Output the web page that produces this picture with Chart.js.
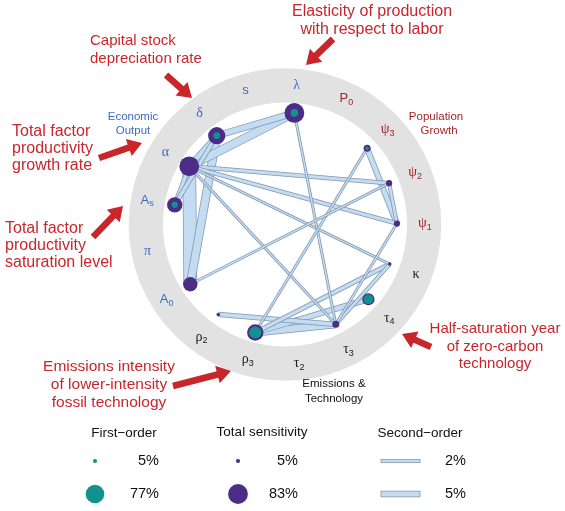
<!DOCTYPE html>
<html><head><meta charset="utf-8">
<script src="https://cdn.jsdelivr.net/npm/chart.js@4.4.0/dist/chart.umd.min.js"></script>
<style>html,body{margin:0;padding:0;background:#fff}canvas{display:block}</style>
</head><body>
<canvas id="c" width="565" height="511"></canvas>
<script>
// ---- Data ----
const paramKeys  = ['lambda','P0','psi3','psi2','psi1','kappa','tau4','tau3','tau2','rho3','rho2','A0','pi','As','alpha','delta','s'];
const paramSym   = ['λ','P','ψ','ψ','ψ','κ','τ','τ','τ','ρ','ρ','A','π','A','α','δ','s'];
const paramSub   = ['','0','3','2','1','','4','3','2','3','2','0','','s','','',''];
const paramGroup = ['econ','pop','pop','pop','pop','emis','emis','emis','emis','emis','emis','econ','econ','econ','econ','econ','econ'];
const totalSens  = [83,0,19,15,15,2,45,19,0,66,2,56,0,61,83,70,0];
const firstOrder = [22,0,2,0,0,0,32,0,0,45,0,0,0,15,0,18,0];
const bandFrom   = ['alpha','delta','lambda','lambda','delta','As','As','rho3','psi3','rho3','rho2','rho3','alpha','alpha','psi2','tau3','alpha','alpha','lambda','psi3','A0','psi1'];
const bandTo     = ['A0','A0','alpha','delta','alpha','alpha','delta','tau3','psi1','tau4','tau3','kappa','psi2','psi1','psi1','kappa','kappa','tau3','tau3','rho3','psi2','tau3'];
const secondOrder= [15,9,9,6.5,5.5,4,4,8,5.4,5.4,4.5,4,3.5,3.5,3,3,1.6,1.6,1.6,1.6,1.6,1.6];
const legendFirst  = [5,77];
const legendTotal  = [5,83];
const legendSecond = [2,5];

// ---- Layout helpers ----
const UNIT = 112, CX = 285, CY = 224.5;
const START_DEG = 4.8, STEP = 360/paramKeys.length;
const RING_IN = 1.09, RING_OUT = 1.395, LABEL_R = 1.25;
const rad = v => 1.6 + 0.1*v;          // node radius px
const bandW = v => 1.7 + 0.8*v;        // band width px
function posOf(k, r){ const t=(START_DEG + k*STEP)*Math.PI/180; return {x:r*Math.sin(t), y:r*Math.cos(t)}; }
const idx = key => paramKeys.indexOf(key);

const groupColor = {econ:'#3b6cc0', pop:'#a3262b', emis:'#1c1c1c'};
const PURPLE='#4b2c86', TEAL='#12928e', BAND_FILL='#c3dcf1', BAND_EDGE='#8196b0', RED='#c8262b';

const datasets = [];
datasets.push({type:'scatter', data: paramKeys.map((k,i)=>firstOrder[i]>0?{...posOf(i,1),v:firstOrder[i]}:null).filter(Boolean),
  backgroundColor:TEAL, borderWidth:0, pointRadius:c=>rad(c.raw.v), pointHoverRadius:c=>rad(c.raw.v), order:0, clip:false});
datasets.push({type:'scatter', data: paramKeys.map((k,i)=>totalSens[i]>0?{...posOf(i,1),v:totalSens[i]}:null).filter(Boolean),
  backgroundColor:PURPLE, borderWidth:0, pointRadius:c=>rad(c.raw.v), pointHoverRadius:c=>rad(c.raw.v), order:1, clip:false});
bandFrom.forEach((a,i)=>{
  const p1=posOf(idx(a),1), p2=posOf(idx(bandTo[i]),1), w=bandW(secondOrder[i]);
  datasets.push({type:'line', data:[p1,p2], borderColor:BAND_EDGE, borderWidth:w, pointRadius:0, borderCapStyle:'butt', tension:0, fill:false, order:10000-2*i, clip:false});
  datasets.push({type:'line', data:[p1,p2], borderColor:BAND_FILL, borderWidth:Math.max(w-1.5,0.6), pointRadius:0, borderCapStyle:'butt', tension:0, fill:false, order:9999-2*i, clip:false});
});

function drawSym(ctx,x,y,sym,sub,color){
  const greek=/[\u0370-\u03ff]/.test(sym);
  const mf = greek ? '14px "Liberation Serif"' : '13px "Liberation Sans"';
  const sf = '9px "Liberation Sans"';
  ctx.font=mf; const w1=ctx.measureText(sym).width;
  ctx.font=sf; const w2=sub?ctx.measureText(sub).width:0;
  const sx=x-(w1+w2)/2;
  ctx.fillStyle=color; ctx.textAlign='left'; ctx.textBaseline='middle';
  ctx.font=mf; ctx.fillText(sym,sx,y);
  if(sub){ctx.font=sf; ctx.fillText(sub,sx+w1,y+4);}
}
function arrow(ctx,x1,y1,x2,y2){
  const dx=x2-x1,dy=y2-y1,L=Math.hypot(dx,dy),ux=dx/L,uy=dy/L,nx=-uy,ny=ux;
  const hw=3.3,hh=9,hl=14,bx=x2-ux*hl,by=y2-uy*hl;
  ctx.beginPath();
  ctx.moveTo(x1+nx*hw,y1+ny*hw); ctx.lineTo(bx+nx*hw,by+ny*hw); ctx.lineTo(bx+nx*hh,by+ny*hh);
  ctx.lineTo(x2,y2); ctx.lineTo(bx-nx*hh,by-ny*hh); ctx.lineTo(bx-nx*hw,by-ny*hw); ctx.lineTo(x1-nx*hw,y1-ny*hw);
  ctx.closePath(); ctx.fill();
}
function lines(ctx,arr,x,y0,dy,align){ctx.textAlign=align; arr.forEach((t,i)=>ctx.fillText(t,x,y0+i*dy));}

const ringPlugin={id:'ring',beforeDatasetsDraw(chart){
  const ctx=chart.ctx,xs=chart.scales.x,ys=chart.scales.y;
  const cx=xs.getPixelForValue(0),cy=ys.getPixelForValue(0);
  const u=xs.getPixelForValue(1)-cx;
  ctx.save(); ctx.strokeStyle='#e2e2e2'; ctx.lineWidth=(RING_OUT-RING_IN)*u;
  ctx.beginPath(); ctx.arc(cx,cy,(RING_OUT+RING_IN)/2*u,0,Math.PI*2); ctx.stroke(); ctx.restore();
}};
const textPlugin={id:'texts',afterDatasetsDraw(chart){
  const ctx=chart.ctx,xs=chart.scales.x,ys=chart.scales.y;
  ctx.save();
  paramKeys.forEach((k,i)=>{const p=posOf(i,LABEL_R); drawSym(ctx,xs.getPixelForValue(p.x),ys.getPixelForValue(p.y),paramSym[i],paramSub[i],groupColor[paramGroup[i]]);});
  ctx.textBaseline='middle'; ctx.font='11.5px "Liberation Sans"';
  ctx.fillStyle=groupColor.econ; lines(ctx,['Economic','Output'],133,117,14,'center');
  ctx.fillStyle=groupColor.pop; ctx.textAlign='center'; ctx.fillText('Population',436,117); ctx.fillText('Growth',439,131);
  ctx.fillStyle='#111'; lines(ctx,['Emissions &','Technology'],334,384,15,'center');
  // annotations
  ctx.fillStyle=RED;
  ctx.font='16px "Liberation Sans"';
  lines(ctx,['Elasticity of production','with respect to labor'],372,12,18,'center');
  lines(ctx,['Total factor','productivity','growth rate'],12,132,17,'left');
  lines(ctx,['Total factor','productivity','saturation level'],5,229,17,'left');
  ctx.font='15px "Liberation Sans"';
  lines(ctx,['Capital stock','depreciation rate'],90,41,18,'left');
  lines(ctx,['Half-saturation year','of zero-carbon','technology'],495,329,17.5,'center');
  ctx.font='15.5px "Liberation Sans"';
  lines(ctx,['Emissions intensity','of lower-intensity','fossil technology'],109,367,18,'center');
  arrow(ctx,333,39,306,65); arrow(ctx,166,75,192,98); arrow(ctx,99,158,142,143);
  arrow(ctx,93,237,123,206); arrow(ctx,431,347,402,334); arrow(ctx,173,386,231,371);
  // legend
  ctx.fillStyle='#111'; ctx.font='13.5px "Liberation Sans"'; ctx.textAlign='center';
  ctx.fillText('First\u2212order',124,433); ctx.fillText('Total sensitivity',262,432); ctx.fillText('Second\u2212order',420,433);
  const rowY=[461,494];
  ctx.font='14.5px "Liberation Sans"'; ctx.textAlign='right';
  legendFirst.forEach((v,i)=>{ctx.fillStyle=TEAL;ctx.beginPath();ctx.arc(95,rowY[i],rad(v),0,Math.PI*2);ctx.fill();ctx.fillStyle='#111';ctx.fillText(v+'%',159,rowY[i]);});
  legendTotal.forEach((v,i)=>{ctx.fillStyle=PURPLE;ctx.beginPath();ctx.arc(238,rowY[i],rad(v),0,Math.PI*2);ctx.fill();ctx.fillStyle='#111';ctx.fillText(v+'%',298,rowY[i]);});
  legendSecond.forEach((v,i)=>{const w=bandW(v);ctx.fillStyle=BAND_FILL;ctx.strokeStyle=BAND_EDGE;ctx.lineWidth=0.8;
    ctx.fillRect(381,rowY[i]-w/2,39,w);ctx.strokeRect(381,rowY[i]-w/2,39,w);ctx.fillStyle='#111';ctx.fillText(v+'%',466,rowY[i]);});
  ctx.restore();
}};

const XMIN=-CX/UNIT, XMAX=(565-CX)/UNIT, YMIN=-(511-CY)/UNIT, YMAX=CY/UNIT;
new Chart(document.getElementById('c'),{
  type:'scatter',
  data:{datasets},
  options:{
    responsive:false, animation:false, devicePixelRatio:1, events:[],
    layout:{padding:0, autoPadding:false},
    plugins:{legend:{display:false},tooltip:{enabled:false}},
    scales:{
      x:{type:'linear',display:false,bounds:'data',min:XMIN,max:XMAX,grace:0,
         afterBuildTicks:s=>{s.min=XMIN;s.max=XMAX;}},
      y:{type:'linear',display:false,bounds:'data',min:YMIN,max:YMAX,grace:0,
         afterBuildTicks:s=>{s.min=YMIN;s.max=YMAX;}}
    }
  },
  plugins:[ringPlugin,textPlugin]
});
</script>
</body></html>
